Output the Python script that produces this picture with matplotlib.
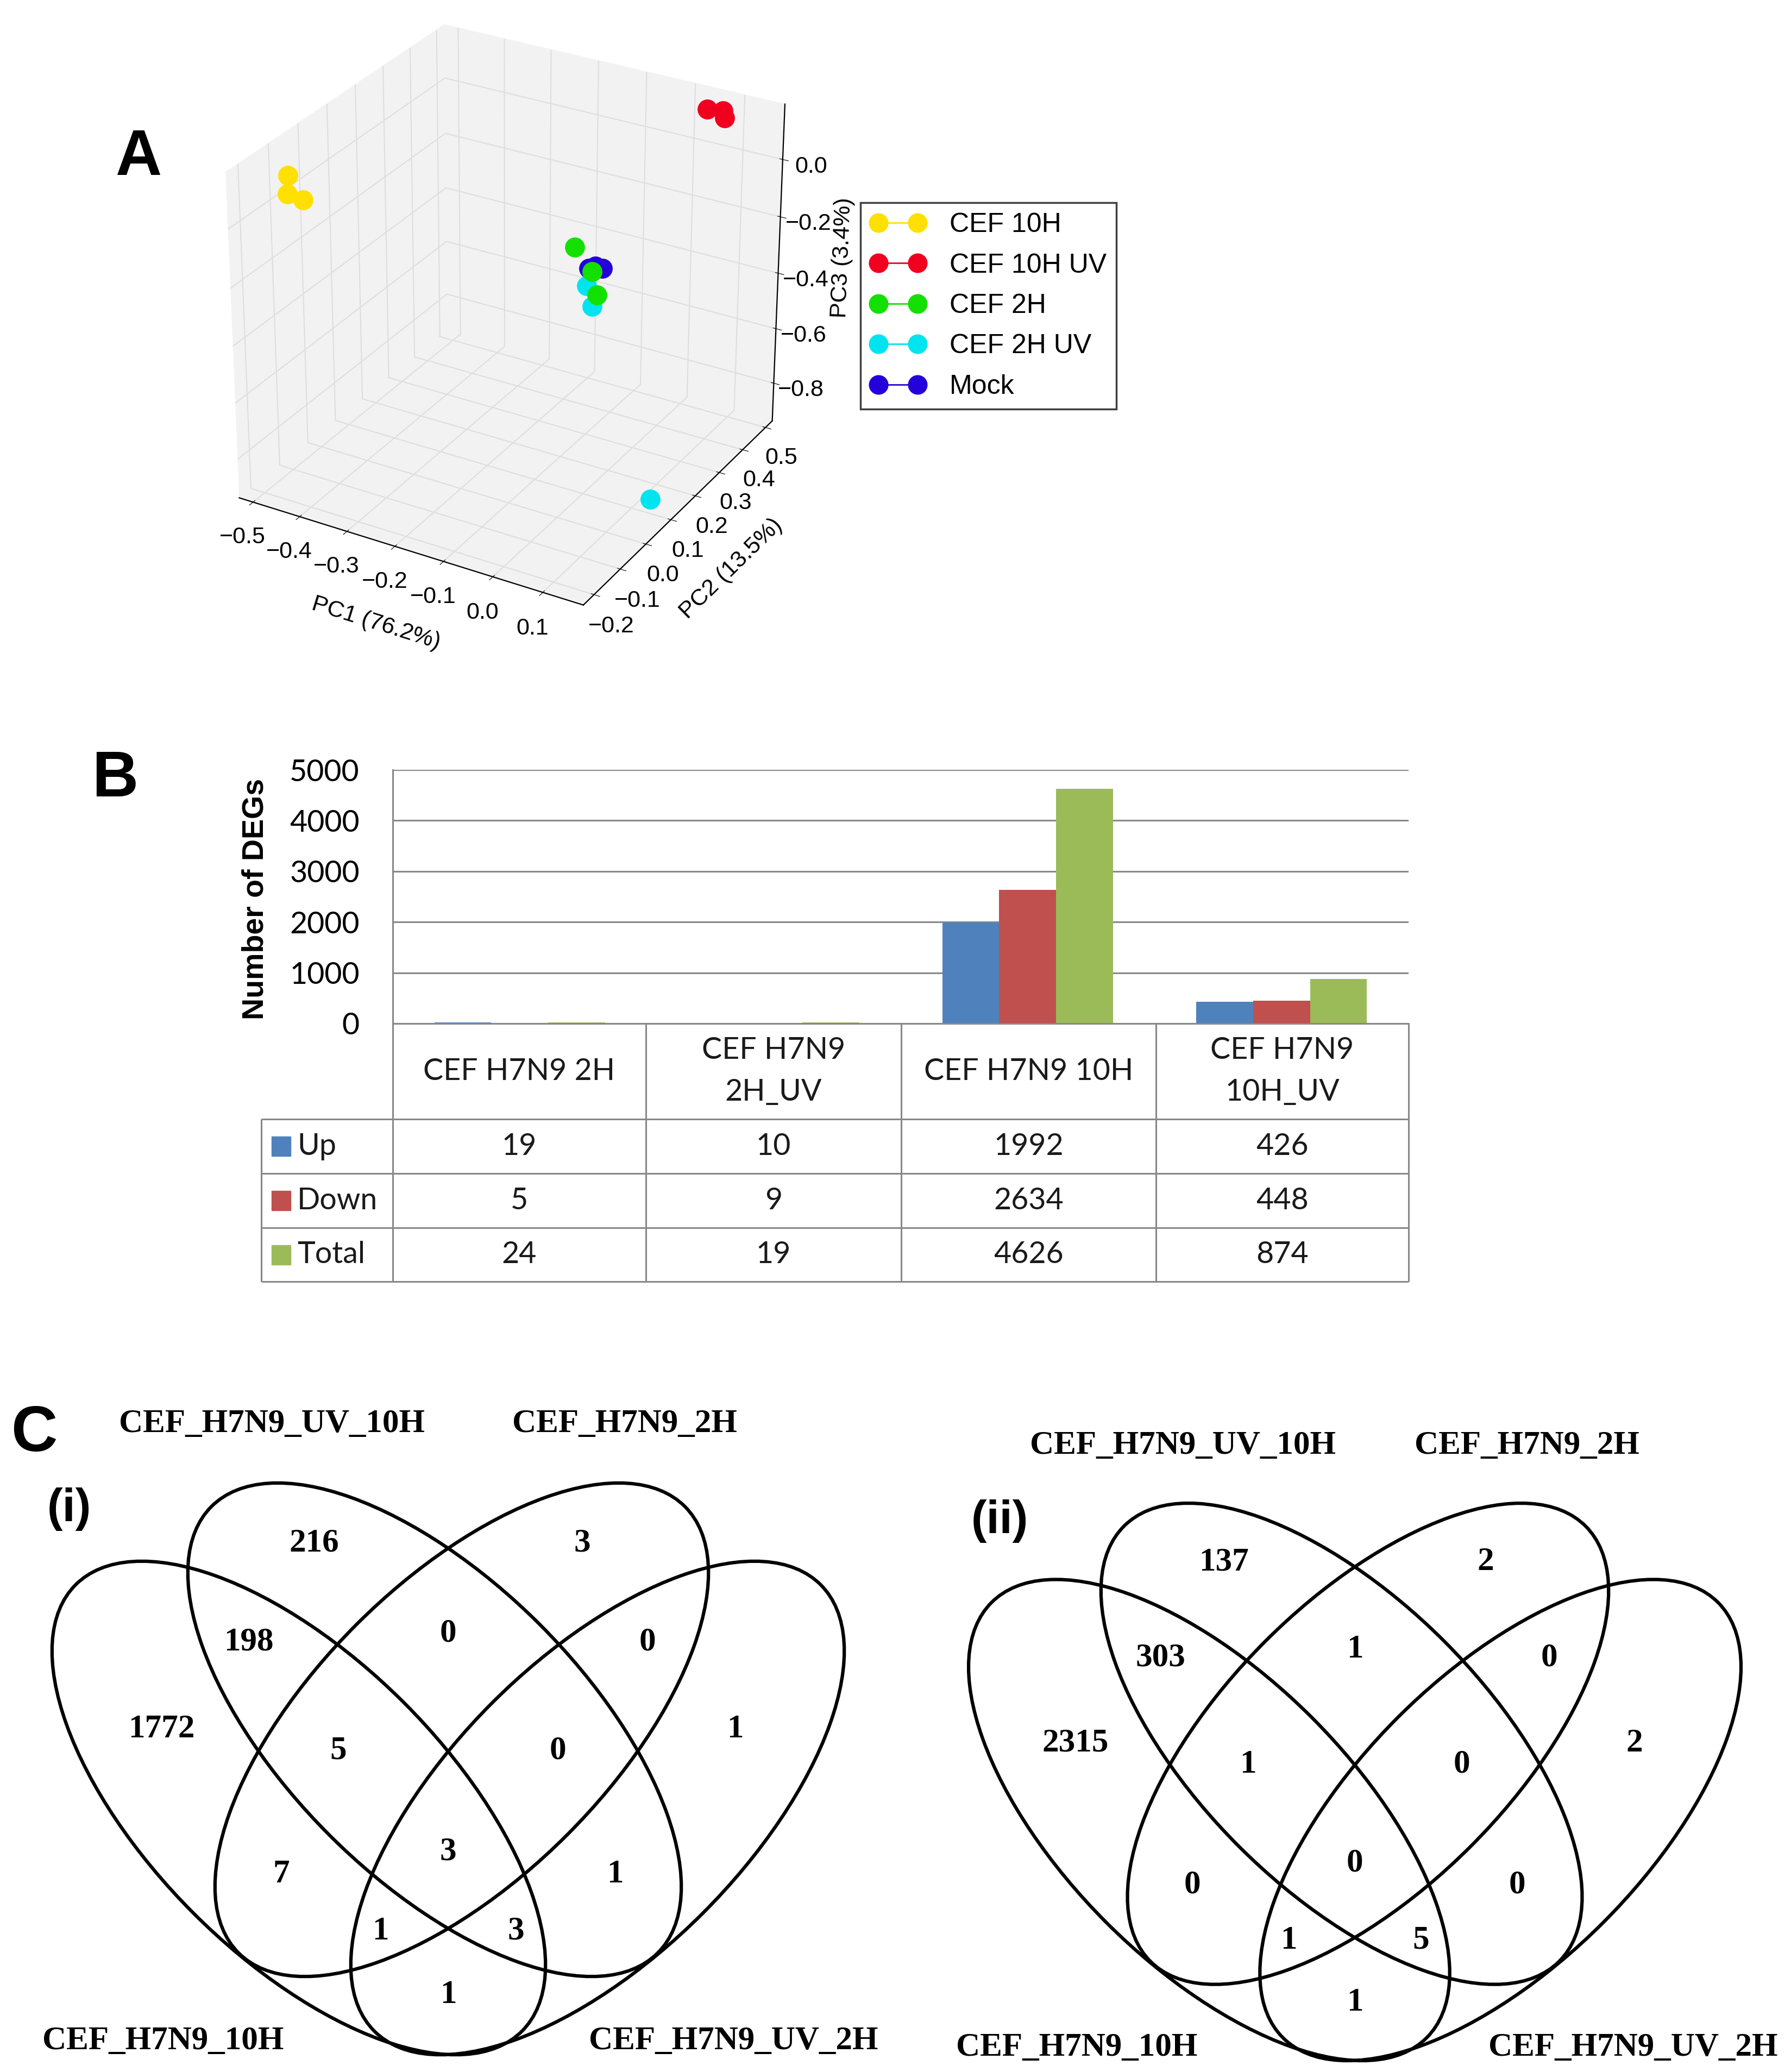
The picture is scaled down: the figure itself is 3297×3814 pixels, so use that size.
import numpy as np
import matplotlib
matplotlib.use("Agg")
import matplotlib.pyplot as plt
from matplotlib.lines import Line2D
from matplotlib.patches import Ellipse, Rectangle

W, H = 3297, 3814
DPI = 100

# ---- panel A: PCA scores ----
pca_groups = ["CEF 10H", "CEF 10H UV", "CEF 2H", "CEF 2H UV", "Mock"]
pca_colors = ["#FFE000", "#F0001E", "#14E000", "#00E4F0", "#2400DA"]
sample_group = (["CEF 10H"] * 3 + ["CEF 10H UV"] * 3 + ["CEF 2H"] * 3
                + ["CEF 2H UV"] * 3 + ["Mock"] * 3)
pc1 = [-0.50, -0.50, -0.50, 0.04, 0.07, 0.07, 0.06, 0.06, 0.06,
       0.06, 0.06, 0.15, 0.06, 0.06, 0.06]
pc2 = [-0.085, -0.090, -0.037, 0.500, 0.503, 0.510, -0.055, 0.030, 0.011,
       -0.009, 0.011, 0.075, -0.002, 0.050, 0.023]
pc3 = [0.084, 0.026, -0.032, 0.137, 0.140, 0.111, 0.066, -0.156, -0.064,
       -0.097, -0.181, -0.860, -0.044, -0.081, -0.055]
pc1_ticks = [-0.5, -0.4, -0.3, -0.2, -0.1, 0.0, 0.1]
pc2_ticks = [-0.2, -0.1, 0.0, 0.1, 0.2, 0.3, 0.4, 0.5]
pc3_ticks = [-0.8, -0.6, -0.4, -0.2, 0.0]

# ---- panel B: DEG counts ----
deg_categories = ["CEF H7N9 2H", "CEF H7N9\n2H_UV", "CEF H7N9 10H", "CEF H7N9\n10H_UV"]
deg_up = [19, 10, 1992, 426]
deg_down = [5, 9, 2634, 448]
deg_total = [24, 19, 4626, 874]
deg_series = ["Up", "Down", "Total"]
deg_colors = ["#4F81BD", "#C0504D", "#9BBB59"]
deg_yticks = [0, 1000, 2000, 3000, 4000, 5000]

# ---- panel C: Venn counts ----
venn_sets = ["CEF_H7N9_UV_10H", "CEF_H7N9_2H", "CEF_H7N9_10H", "CEF_H7N9_UV_2H"]
# region order: top row, then going down the diagram
venn_i = [216, 3, 198, 0, 0, 1772, 5, 0, 1, 7, 3, 1, 1, 3, 1]
venn_ii = [137, 2, 303, 1, 0, 2315, 1, 0, 2, 0, 0, 0, 1, 5, 1]

# layout of one venn diagram, pixel offsets from its centre
ELLIPSES = [((-275, 70), 45), ((-25, -74), 45), ((25, -74), -45), ((275, 70), -45)]
ELL_A, ELL_B = 581, 274
REGION_XY = [(-247, -417), (247, -417), (-367, -236), (0, -252), (367, -236),
             (-528, -75), (-202, -35), (202, -35), (528, -75),
             (-307, 192), (0, 151), (307, 192), (-125, 297), (125, 297), (0, 414)]
LABEL_XY = [(-325, -637), (325, -637), (-525, 499), (525, 499)]

SANS = ["Liberation Sans", "DejaVu Sans"]
NARROW = ["Liberation Sans Narrow", "Liberation Sans", "DejaVu Sans"]
SERIF = ["Liberation Serif", "DejaVu Serif"]
CALIB = ["Lato", "Liberation Sans", "DejaVu Sans"]

plt.rcParams["font.family"] = SANS
plt.rcParams["grid.color"] = "#dedede"
plt.rcParams["grid.linewidth"] = 1.5
plt.rcParams["axes.linewidth"] = 1.6


def px_rect(x0, y0, x1, y1):
    """figure-fraction rect from pixel box (y measured from top)"""
    return [x0 / W, 1 - y1 / H, (x1 - x0) / W, (y1 - y0) / H]


fig = plt.figure(figsize=(W / DPI, H / DPI), dpi=DPI)

# ---------------- A ----------------
ax3d = fig.add_axes(px_rect(322, -30, 1526, 1174), projection="3d")
for name, color in zip(pca_groups, pca_colors):
    idx = [i for i, g in enumerate(sample_group) if g == name]
    ax3d.scatter([pc1[i] for i in idx], [pc2[i] for i in idx], [pc3[i] for i in idx],
                 s=650, c=color, edgecolors=color, depthshade=False, alpha=1)
ax3d.view_init(elev=28, azim=-60)
ax3d.set_xlim(-0.53, 0.18)
ax3d.set_ylim(-0.24, 0.53)
ax3d.set_zlim(-0.94, 0.19)
ax3d.set_box_aspect((1, 1.03, 0.92))
ax3d.set_xticks(pc1_ticks)
ax3d.set_yticks(pc2_ticks)
ax3d.set_zticks(pc3_ticks)
ax3d.tick_params(labelsize=31, pad=14)
ax3d.zaxis.set_tick_params(pad=16)
ax3d.set_xlabel("PC1 (76.2%)", fontsize=31, labelpad=44)
ax3d.set_ylabel("PC2 (13.5%)", fontsize=31, labelpad=44)
ax3d.set_zlabel("PC3 (3.4%)", fontsize=31, labelpad=34)
for axis in (ax3d.xaxis, ax3d.yaxis, ax3d.zaxis):
    axis.set_pane_color((0.95, 0.95, 0.95, 1.0))

handles = [Line2D([], [], color=c, marker="o", markersize=25, linewidth=2,
                  markeredgecolor=c) for c in pca_colors]
leg = fig.legend(handles, pca_groups, loc="upper left",
                 bbox_to_anchor=(1584 / W, 1 - 373 / H), numpoints=2, fontsize=36,
                 fancybox=False, edgecolor="#404040", framealpha=1,
                 borderaxespad=0, borderpad=0.36, handlelength=2.03,
                 handletextpad=0.89, labelspacing=0.57)
leg.get_frame().set_linewidth(2.5)

# ---------------- B ----------------
axb = fig.add_axes(px_rect(723, 1417, 2593, 1884))
xpos = np.arange(len(deg_categories))
bw = 0.224
for k, (vals, col) in enumerate(zip([deg_up, deg_down, deg_total], deg_colors)):
    axb.bar(xpos + (k - 1) * bw, vals, bw, color=col, zorder=3)
axb.set_xlim(-0.5, len(deg_categories) - 0.5)
axb.set_ylim(0, 5000)
axb.set_yticks(deg_yticks)
axb.set_xticks([])
axb.yaxis.grid(True, color="#888888", linewidth=2.2)
axb.set_axisbelow(True)
for side in ("top", "right"):
    axb.spines[side].set_visible(False)
for side in ("left", "bottom"):
    axb.spines[side].set_color("#888888")
    axb.spines[side].set_linewidth(2.2)
axb.tick_params(axis="y", length=0, pad=44, labelsize=40)
for lab in axb.get_yticklabels():
    lab.set_fontfamily(CALIB)
axb.set_ylabel("Number of DEGs", fontsize=40, fontweight="bold")
axb.yaxis.set_label_coords(-0.121, 0.49)

# overlay in pixel coordinates for the table, venns and panel letters
ov = fig.add_axes([0, 0, 1, 1])
ov.set_xlim(0, W)
ov.set_ylim(H, 0)
ov.axis("off")

col_edges = [723, 1189, 1659, 2128, 2593]
row_edges = [1884, 2060, 2160, 2260, 2359]
lab_left = 481
grid_kw = dict(color="#888888", linewidth=2.2)
ov.hlines(row_edges[0], col_edges[0], col_edges[-1], **grid_kw)
ov.hlines(row_edges[1:], lab_left, col_edges[-1], **grid_kw)
ov.vlines(lab_left, row_edges[1], row_edges[-1], **grid_kw)
ov.vlines(col_edges, row_edges[0], row_edges[-1], **grid_kw)

for j, cat in enumerate(deg_categories):
    cx = (col_edges[j] + col_edges[j + 1]) / 2
    ov.text(cx, (row_edges[0] + row_edges[1]) / 2, cat, ha="center", va="center",
            fontsize=40, family=CALIB, linespacing=1.65, color="#1a1a1a")
for r, (name, vals, col) in enumerate(zip(deg_series, [deg_up, deg_down, deg_total], deg_colors)):
    cy = (row_edges[r + 1] + row_edges[r + 2]) / 2
    ov.add_patch(Rectangle((500, cy - 18), 35, 36, color=col))
    ov.text(547, cy, name, ha="left", va="center", fontsize=40, family=CALIB, color="#1a1a1a")
    for j, v in enumerate(vals):
        cx = (col_edges[j] + col_edges[j + 1]) / 2
        ov.text(cx, cy, str(v), ha="center", va="center", fontsize=40,
                family=CALIB, color="#1a1a1a")


# ---------------- C ----------------
def draw_venn(cx, cy, scale, counts):
    for (dx, dy), ang in ELLIPSES:
        ov.add_patch(Ellipse((cx + dx * scale, cy + dy * scale), 2 * ELL_A * scale,
                             2 * ELL_B * scale, angle=ang, fill=False,
                             edgecolor="black", linewidth=4.5))
    for (dx, dy), n in zip(REGION_XY, counts):
        ov.text(cx + dx * scale, cy + dy * scale, str(n), ha="center", va="center",
                fontsize=44, fontweight="bold", family=SERIF)
    for (dx, dy), lab in zip(LABEL_XY, venn_sets):
        ov.text(cx + dx * scale, cy + dy * scale, lab, ha="center", va="center",
                fontsize=44, fontweight="bold", family=SERIF)


draw_venn(825, 3258, 1.0, venn_i)
draw_venn(2494, 3282, 0.975, venn_ii)

# panel letters
ov.text(255, 292, "A", fontsize=85, fontweight="bold", family=NARROW, ha="center", va="center")
ov.text(212, 1436, "B", fontsize=85, fontweight="bold", family=NARROW, ha="center", va="center")
ov.text(63, 2641, "C", fontsize=85, fontweight="bold", family=NARROW, ha="center", va="center")
ov.text(127, 2778, "(i)", fontsize=62, fontweight="bold", family=SANS, ha="center", va="center")
ov.text(1840, 2800, "(ii)", fontsize=62, fontweight="bold", family=SANS, ha="center", va="center")

fig.savefig("out.png", dpi=DPI)
